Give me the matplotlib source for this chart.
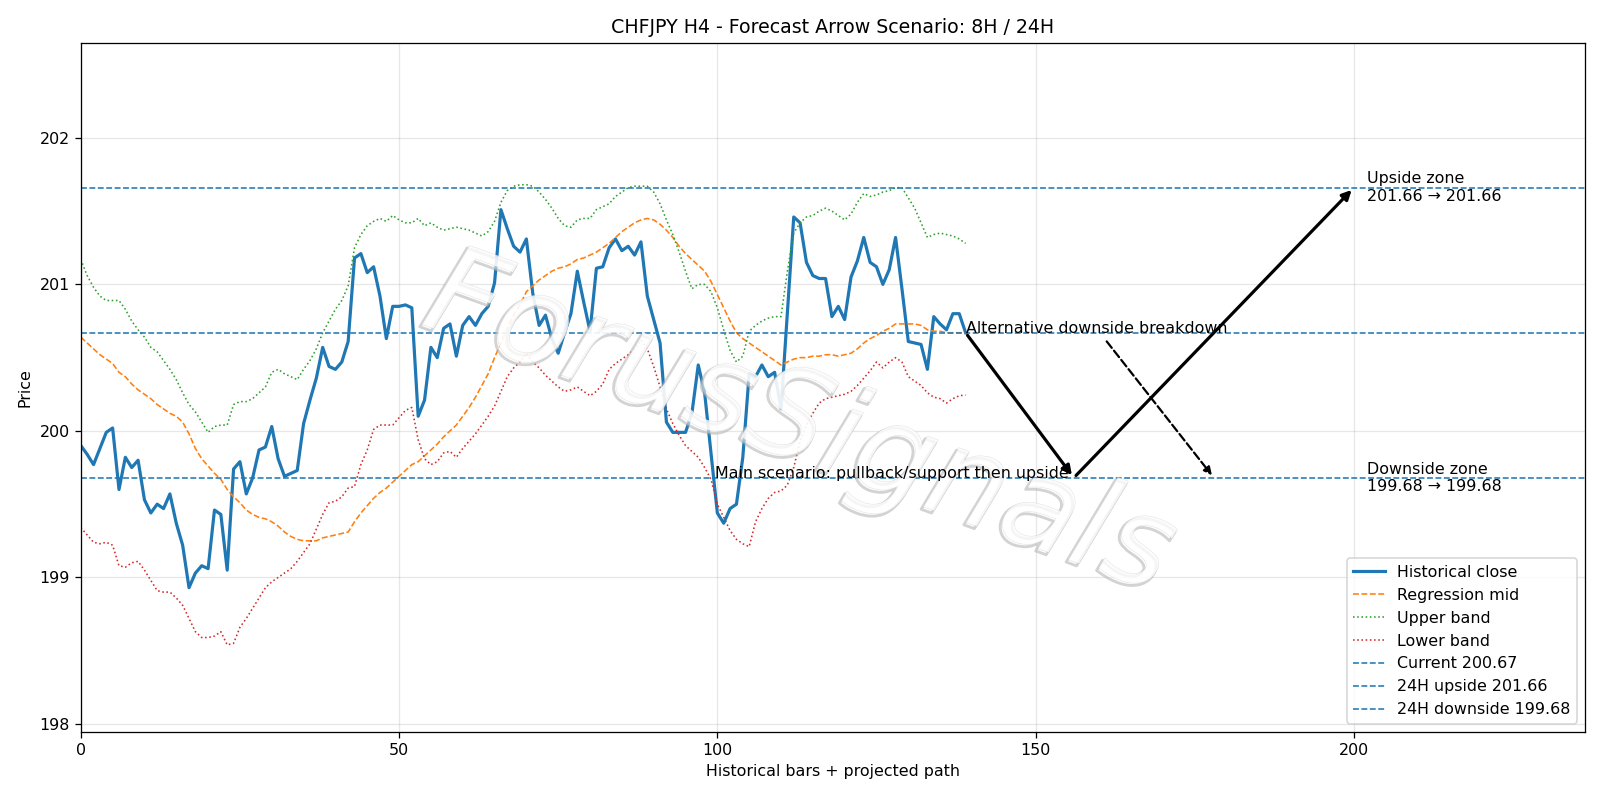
import matplotlib
matplotlib.use("Agg")
import matplotlib.pyplot as plt
import matplotlib.patheffects as pe
import numpy as np

close = [199.90, 199.84, 199.77, 199.88, 199.99, 200.02, 199.60, 199.82, 199.75, 199.80,
         199.53, 199.44, 199.50, 199.47, 199.57, 199.37, 199.22, 198.93, 199.03, 199.08,
         199.06, 199.46, 199.43, 199.05, 199.74, 199.79, 199.57, 199.68, 199.87, 199.89,
         200.03, 199.81, 199.69, 199.71, 199.73, 200.05, 200.21, 200.36, 200.57, 200.44,
         200.42, 200.47, 200.61, 201.18, 201.21, 201.08, 201.12, 200.92, 200.63, 200.85,
         200.85, 200.86, 200.84, 200.10, 200.21, 200.57, 200.50, 200.70, 200.73, 200.51,
         200.72, 200.78, 200.72, 200.80, 200.85, 201.01, 201.51, 201.38, 201.26, 201.22,
         201.31, 200.94, 200.72, 200.79, 200.63, 200.53, 200.67, 200.80, 201.09, 200.88,
         200.68, 201.11, 201.12, 201.25, 201.31, 201.23, 201.26, 201.20, 201.29, 200.92,
         200.76, 200.60, 200.06, 199.99, 199.99, 199.99, 200.12, 200.45, 200.26, 199.85,
         199.44, 199.37, 199.47, 199.50, 199.82, 200.39, 200.37, 200.45, 200.37, 200.40,
         200.15, 200.81, 201.46, 201.42, 201.15, 201.06, 201.04, 201.04, 200.78, 200.85,
         200.76, 201.05, 201.16, 201.32, 201.15, 201.12, 201.00, 201.10, 201.32, 200.97,
         200.61, 200.60, 200.59, 200.42, 200.78, 200.73, 200.69, 200.80, 200.80, 200.67]

mid = [200.64, 200.60, 200.56, 200.52, 200.49, 200.46, 200.40, 200.37, 200.32, 200.28,
       200.25, 200.22, 200.18, 200.15, 200.12, 200.10, 200.06, 199.98, 199.88, 199.81,
       199.76, 199.71, 199.67, 199.60, 199.55, 199.51, 199.46, 199.43, 199.41, 199.40,
       199.38, 199.35, 199.31, 199.28, 199.26, 199.25, 199.25, 199.25, 199.27, 199.28,
       199.29, 199.30, 199.31, 199.38, 199.44, 199.49, 199.54, 199.58, 199.61, 199.65,
       199.69, 199.73, 199.77, 199.79, 199.83, 199.87, 199.91, 199.96, 200.00, 200.04,
       200.10, 200.16, 200.23, 200.31, 200.39, 200.50, 200.60, 200.70, 200.79, 200.86,
       200.95, 200.99, 201.03, 201.06, 201.09, 201.11, 201.12, 201.14, 201.17, 201.18,
       201.20, 201.22, 201.25, 201.28, 201.32, 201.36, 201.39, 201.42, 201.44, 201.45,
       201.44, 201.41, 201.37, 201.32, 201.26, 201.21, 201.17, 201.13, 201.09, 201.02,
       200.93, 200.84, 200.75, 200.67, 200.63, 200.60, 200.57, 200.54, 200.51, 200.48,
       200.45, 200.47, 200.49, 200.50, 200.50, 200.51, 200.51, 200.52, 200.52, 200.51,
       200.52, 200.53, 200.56, 200.60, 200.63, 200.65, 200.68, 200.70, 200.73, 200.73,
       200.73, 200.73, 200.72, 200.69, 200.68, 200.68, 200.67, 200.67, 200.67, 200.67]

upper = [201.17, 201.06, 200.98, 200.92, 200.89, 200.89, 200.89, 200.83, 200.75, 200.69,
         200.64, 200.57, 200.54, 200.48, 200.42, 200.35, 200.26, 200.18, 200.13, 200.06,
         199.99, 200.03, 200.04, 200.04, 200.18, 200.20, 200.20, 200.22, 200.26, 200.30,
         200.40, 200.42, 200.39, 200.37, 200.35, 200.42, 200.48, 200.56, 200.67, 200.75,
         200.83, 200.89, 200.99, 201.25, 201.34, 201.40, 201.43, 201.45, 201.43, 201.47,
         201.44, 201.42, 201.42, 201.45, 201.40, 201.42, 201.39, 201.37, 201.38, 201.39,
         201.38, 201.37, 201.35, 201.33, 201.36, 201.43, 201.56, 201.64, 201.67, 201.68,
         201.68, 201.67, 201.63, 201.58, 201.52, 201.45, 201.40, 201.39, 201.44, 201.45,
         201.45, 201.51, 201.53, 201.55, 201.60, 201.63, 201.66, 201.67, 201.67, 201.67,
         201.63, 201.55, 201.44, 201.34, 201.22, 201.09, 200.97, 201.00, 201.00, 200.95,
         200.84, 200.69, 200.55, 200.47, 200.51, 200.68, 200.72, 200.75, 200.77, 200.78,
         200.78, 201.09, 201.35, 201.42, 201.46, 201.47, 201.50, 201.52, 201.50, 201.47,
         201.44, 201.48, 201.56, 201.62, 201.60, 201.61, 201.63, 201.64, 201.66, 201.66,
         201.59, 201.52, 201.42, 201.32, 201.34, 201.35, 201.34, 201.33, 201.31, 201.28]

lower = [199.34, 199.29, 199.24, 199.23, 199.24, 199.22, 199.08, 199.07, 199.10, 199.11,
         199.05, 198.98, 198.91, 198.90, 198.90, 198.86, 198.81, 198.72, 198.63, 198.59,
         198.59, 198.60, 198.63, 198.54, 198.55, 198.66, 198.72, 198.79, 198.86, 198.93,
         198.97, 199.00, 199.03, 199.06, 199.11, 199.17, 199.23, 199.33, 199.43, 199.51,
         199.52, 199.55, 199.61, 199.62, 199.77, 199.87, 200.01, 200.04, 200.04, 200.04,
         200.09, 200.14, 200.16, 199.94, 199.81, 199.77, 199.79, 199.85, 199.86, 199.82,
         199.88, 199.93, 199.98, 200.04, 200.10, 200.17, 200.27, 200.37, 200.43, 200.47,
         200.53, 200.47, 200.43, 200.38, 200.34, 200.30, 200.27, 200.28, 200.30, 200.27,
         200.24, 200.27, 200.32, 200.42, 200.46, 200.49, 200.52, 200.56, 200.62, 200.56,
         200.44, 200.30, 200.15, 200.05, 199.97, 199.90, 199.86, 199.82, 199.75, 199.67,
         199.50, 199.41, 199.32, 199.26, 199.23, 199.21, 199.38, 199.47, 199.54, 199.58,
         199.59, 199.63, 199.75, 199.93, 200.04, 200.12, 200.19, 200.22, 200.23, 200.24,
         200.25, 200.27, 200.31, 200.36, 200.41, 200.47, 200.43, 200.47, 200.50, 200.47,
         200.37, 200.34, 200.31, 200.26, 200.23, 200.22, 200.19, 200.22, 200.24, 200.245]

current = 200.67
upside = 201.66
downside = 199.68
pivot_x = 156
up_x = 200
alt_x = 178
zone_x = 202

x = np.arange(len(close))

fig = plt.figure(figsize=(14, 7), dpi=1600 / 14)
ax = fig.add_axes([0.0505, 0.0855, 0.9401, 0.8609])

ax.plot(x, close, color="#1f77b4", lw=2, label="Historical close")
ax.plot(x, mid, color="#ff7f0e", lw=1.0, ls="--", label="Regression mid")
ax.plot(x, upper, color="#2ca02c", lw=1.0, ls=":", label="Upper band")
ax.plot(x, lower, color="#d62728", lw=1.0, ls=":", label="Lower band")
ax.axhline(current, color="#1f77b4", lw=1.0, ls="--", label=f"Current {current:.2f}")
ax.axhline(upside, color="#1f77b4", lw=1.0, ls="--", label=f"24H upside {upside:.2f}")
ax.axhline(downside, color="#1f77b4", lw=1.0, ls="--", label=f"24H downside {downside:.2f}")

last_x = x[-1]
ax.annotate("", xy=(pivot_x, downside), xytext=(last_x, current),
            arrowprops=dict(arrowstyle="-|>", lw=2.0, color="black", mutation_scale=12))
ax.annotate("", xy=(up_x, upside), xytext=(pivot_x, downside),
            arrowprops=dict(arrowstyle="-|>", lw=2.0, color="black", mutation_scale=12))
ax.text(pivot_x - 0.8, downside, "Main scenario: pullback/support then upside",
        ha="right", va="baseline", fontsize=10)
ax.annotate("Alternative downside breakdown", xy=(alt_x, downside), xytext=(last_x, current),
            fontsize=10, ha="left", va="baseline",
            arrowprops=dict(arrowstyle="-|>", lw=1.4, ls="--", color="black", mutation_scale=10))

ax.text(zone_x, upside, f"Upside zone\n{upside:.2f} \u2192 {upside:.2f}", ha="left", va="center", fontsize=10)
ax.text(zone_x, downside, f"Downside zone\n{downside:.2f} \u2192 {downside:.2f}", ha="left", va="center", fontsize=10)

ax.text(0.478, 0.445, "ForusSignals", transform=ax.transAxes, fontsize=78,
        style="italic", color="white", alpha=0.55, rotation=-20,
        ha="center", va="center", zorder=2.5,
        path_effects=[pe.Stroke(offset=(-1.5, -1.5), linewidth=1.8, foreground="#b0b0b0"),
                      pe.Stroke(linewidth=0.5, foreground="#cccccc"),
                      pe.Normal()])

ax.set_xlim(0, 236.3)
ax.set_ylim(197.948, 202.648)
ax.set_xticks([0, 50, 100, 150, 200])
ax.set_yticks([198, 199, 200, 201, 202])
ax.grid(True, color="#b0b0b0", alpha=0.3, lw=0.8)
ax.set_title("CHFJPY H4 - Forecast Arrow Scenario: 8H / 24H", fontsize=12)
ax.set_xlabel("Historical bars + projected path")
ax.set_ylabel("Price")
ax.legend(loc="lower right")

fig.savefig("out.png", dpi=1600 / 14)
